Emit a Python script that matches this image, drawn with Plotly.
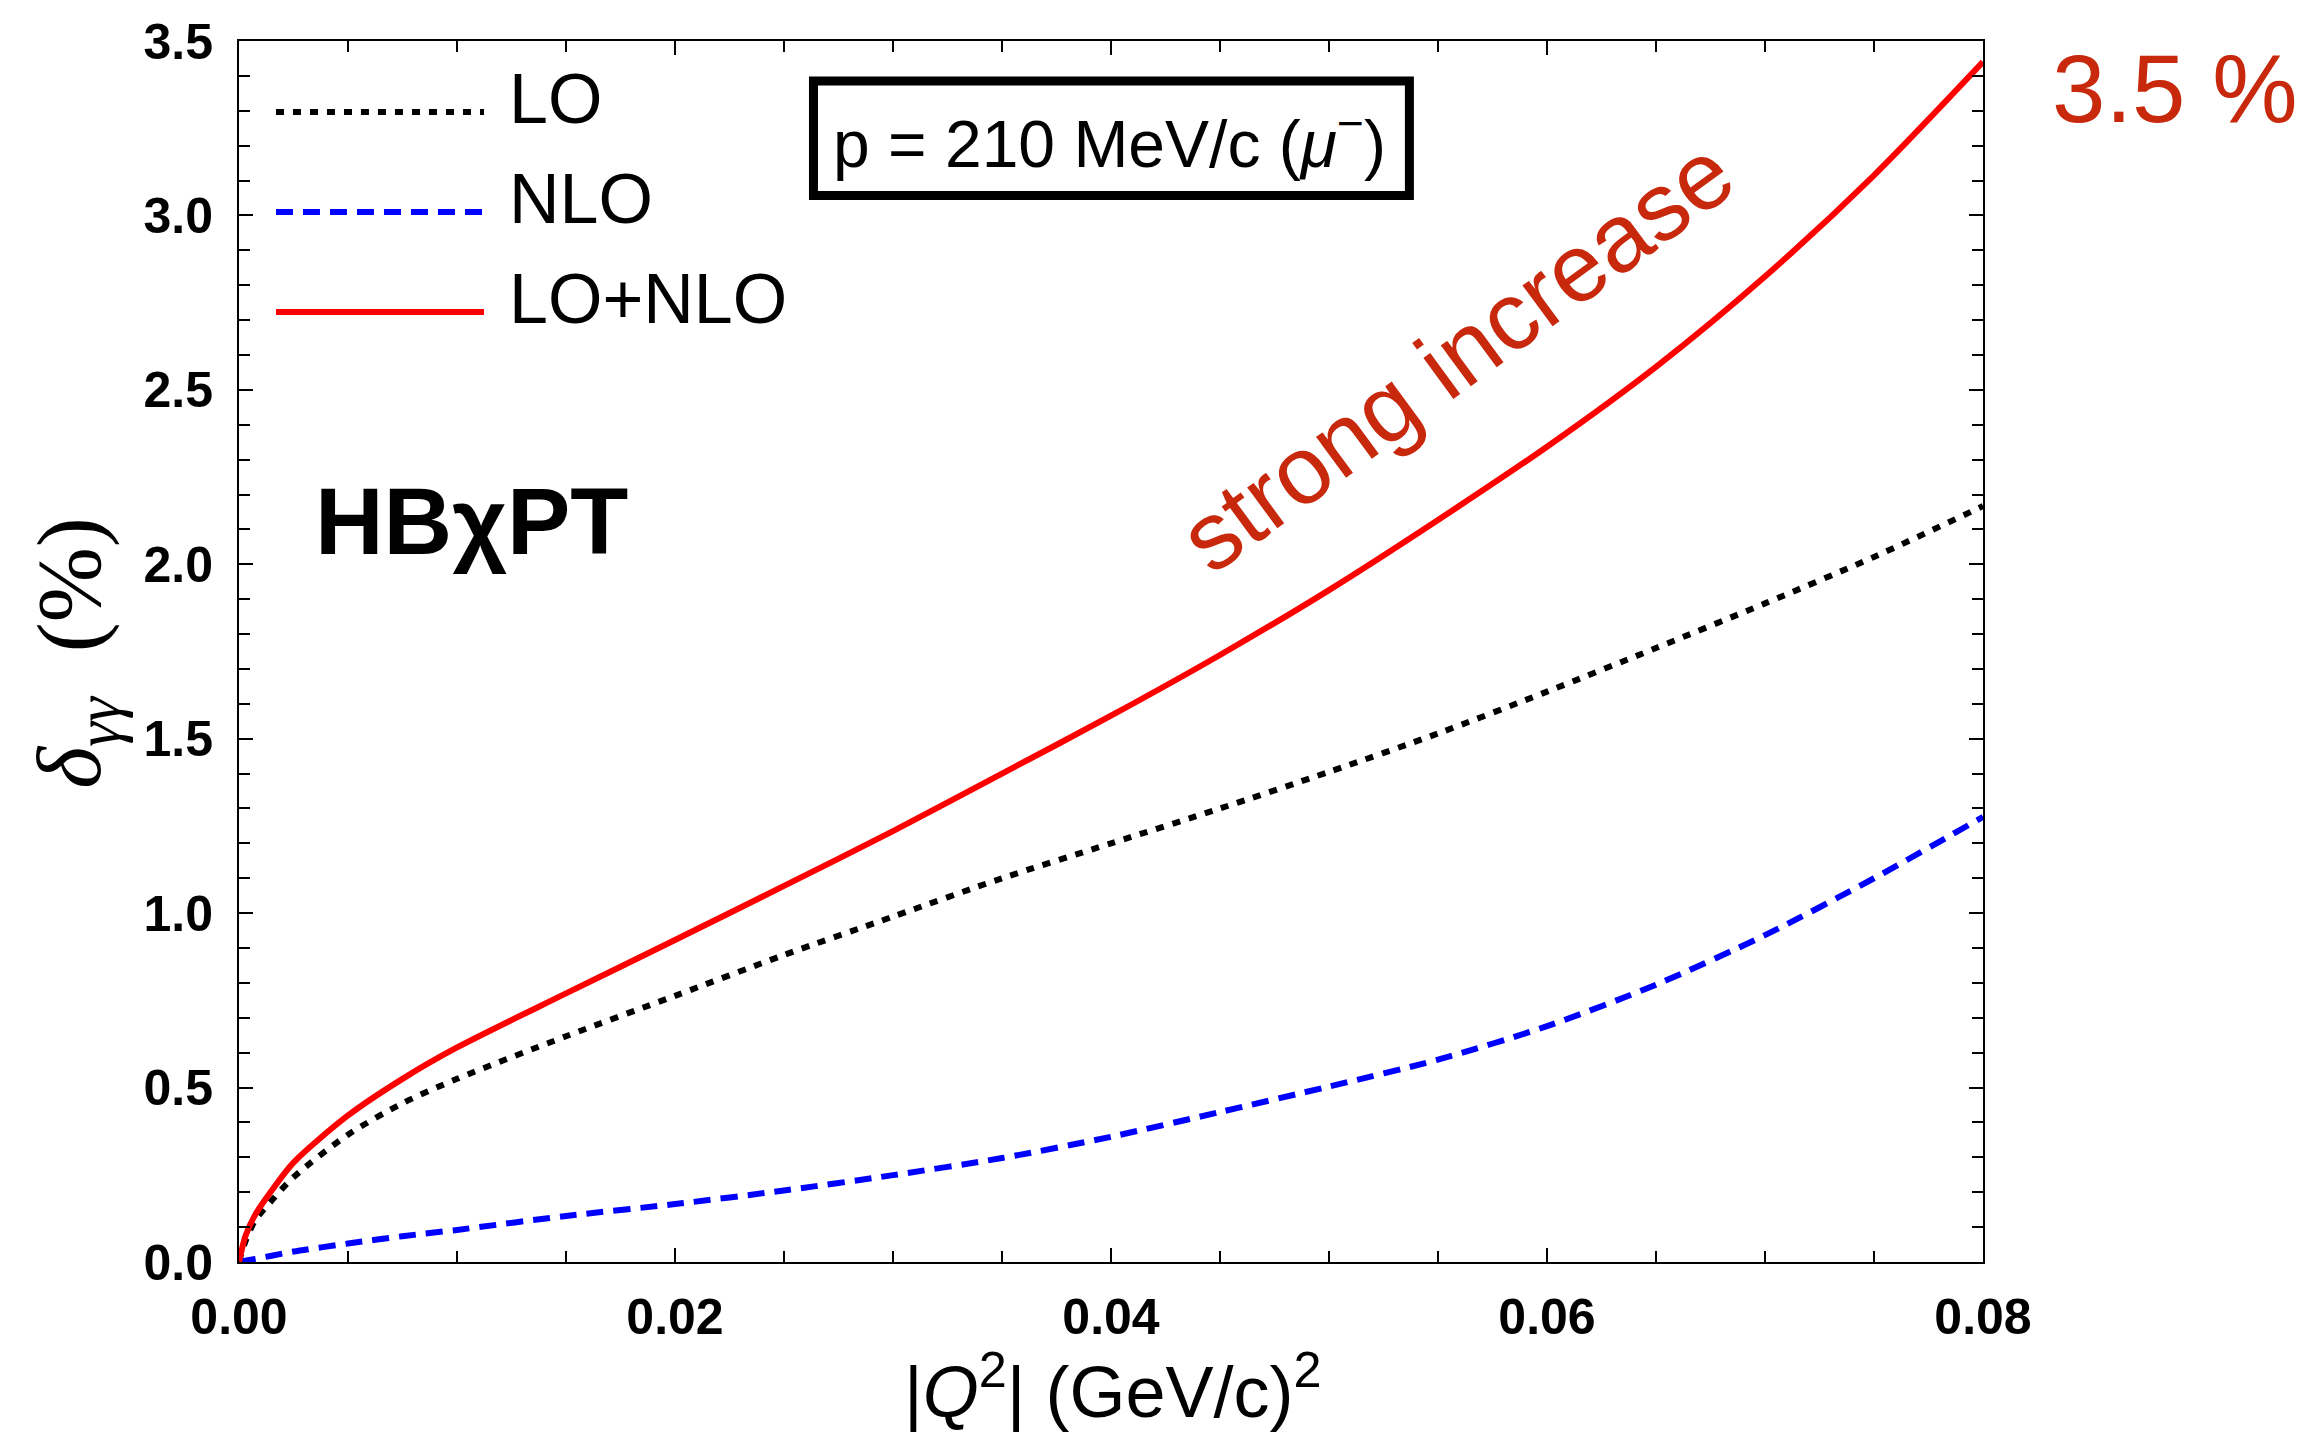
import plotly.graph_objects as go

# |Q^2| values (GeV/c)^2
q2 = [0, 0.0003, 0.00074, 0.0015, 0.0025, 0.005, 0.0075, 0.01, 0.015, 0.02, 0.025,
      0.03, 0.035, 0.04, 0.045, 0.05, 0.055, 0.06, 0.065, 0.07, 0.075, 0.08]
# delta_gamma-gamma (%)
lo = [0, 0.06, 0.119, 0.176, 0.243, 0.365, 0.455, 0.525, 0.647, 0.763, 0.88,
      0.99, 1.10, 1.20, 1.30, 1.405, 1.515, 1.635, 1.76, 1.888, 2.021, 2.167]
nlo = [0, 0.004, 0.009, 0.018, 0.03, 0.053, 0.074, 0.092, 0.132, 0.166, 0.205,
       0.249, 0.298, 0.359, 0.43, 0.503, 0.58, 0.676, 0.795, 0.937, 1.100, 1.276]
lo_nlo = [0, 0.075, 0.135, 0.205, 0.285, 0.42, 0.525, 0.615, 0.77, 0.923, 1.078,
          1.235, 1.40, 1.566, 1.74, 1.926, 2.127, 2.337, 2.566, 2.825, 3.115, 3.44]

series_names = ["LO", "NLO", "LO+NLO"]
series_colors = ["black", "#0000FF", "#FF0000"]
series_dash = ["8px,9px", "17px,10px", "solid"]
series_width = [6, 6, 6]
series_vals = [lo, nlo, lo_nlo]

x_ticks = [0, 0.02, 0.04, 0.06, 0.08]
y_ticks = [0, 0.5, 1.0, 1.5, 2.0, 2.5, 3.0, 3.5]

DARKRED = "#C8280C"
SANS = "Liberation Sans, Arial, Helvetica, sans-serif"
SERIF = "Liberation Serif, Times New Roman, serif"

fig = go.Figure()
for name, vals, col, dash, w in zip(series_names, series_vals, series_colors, series_dash, series_width):
    fig.add_trace(go.Scatter(x=q2, y=vals, mode="lines", name=name,
                             line=dict(color=col, width=w, dash=dash, shape="spline", smoothing=0.8),
                             showlegend=False))

# manual legend
leg_y = [0.9419, 0.860, 0.778]
for name, col, dash, w, yy in zip(series_names, series_colors, series_dash, series_width, leg_y):
    fig.add_shape(type="line", xref="paper", yref="paper", x0=0.0212, x1=0.1405, y0=yy, y1=yy,
                  line=dict(color=col, width=w, dash=dash))
    fig.add_annotation(xref="paper", yref="paper", x=0.1537, y=yy + 0.011, xanchor="left",
                       yanchor="middle", text=name, showarrow=False,
                       font=dict(family=SANS, size=70, color="black"))

# box with momentum
fig.add_shape(type="rect", xref="paper", yref="paper", x0=0.3294, x1=0.6711, y0=0.8735, y1=0.9672,
              line=dict(color="black", width=9), fillcolor="rgba(0,0,0,0)")
fig.add_annotation(xref="paper", yref="paper", x=0.4994, y=0.9197, xanchor="center", yanchor="middle",
                   text="p = 210 MeV/c (<i>μ</i><sup>−</sup>)", showarrow=False,
                   font=dict(family=SANS, size=66, color="black"))

fig.add_annotation(xref="paper", yref="paper", x=0.1336, y=0.607, xanchor="center", yanchor="middle",
                   text="<b>HBχPT</b>", showarrow=False,
                   font=dict(family=SANS, size=95, color="black"))

fig.add_annotation(xref="paper", yref="paper", x=0.6978, y=0.7428, xanchor="center", yanchor="middle",
                   text="strong increase", textangle=-36.3, showarrow=False,
                   font=dict(family=SANS, size=96, color=DARKRED))

fig.add_annotation(xref="paper", yref="paper", x=1.110, y=0.9615, xanchor="center", yanchor="middle",
                   text="3.5 %", showarrow=False,
                   font=dict(family=SANS, size=96, color=DARKRED))

# axis titles
fig.add_annotation(xref="paper", yref="paper", x=0.501, y=-0.102, xanchor="center", yanchor="middle",
                   text="|<i>Q</i><sup>2</sup>| (GeV/c)<sup>2</sup>", showarrow=False,
                   font=dict(family=SANS, size=72, color="black"))
fig.add_annotation(xref="paper", yref="paper", x=-0.093, y=0.4988, xanchor="center", yanchor="middle",
                   text="<i>δ</i><sub><i>γγ</i></sub>  (%)", textangle=-90, showarrow=False,
                   font=dict(family=SERIF, size=90, color="black"))

axis_common = dict(showline=True, linecolor="black", linewidth=2, mirror="allticks",
                   ticks="inside", ticklen=14, tickwidth=1.5, tickcolor="black",
                   showgrid=False, zeroline=False,
                   tickfont=dict(family=SANS, size=50, color="black", weight="bold"))

fig.update_xaxes(range=[0, 0.08], tickvals=x_ticks, tickformat=".2f",
                 minor=dict(dtick=0.005, ticks="inside", ticklen=11, tickwidth=1.5, tickcolor="black",
                            showgrid=False),
                 ticklabelstandoff=10, **axis_common)
fig.update_yaxes(range=[0, 3.5], tickvals=y_ticks, tickformat=".1f",
                 minor=dict(dtick=0.1, ticks="inside", ticklen=11, tickwidth=1.5, tickcolor="black",
                            showgrid=False),
                 ticklabelstandoff=14, **axis_common)

fig.update_layout(width=2309, height=1432, autosize=False,
                  margin=dict(l=239, r=326, t=41, b=170),
                  paper_bgcolor="white", plot_bgcolor="white",
                  showlegend=False)

fig.write_html("out.html", config={"displayModeBar": False},
               post_script="document.body.style.margin='0px';document.body.style.overflow='hidden';")
